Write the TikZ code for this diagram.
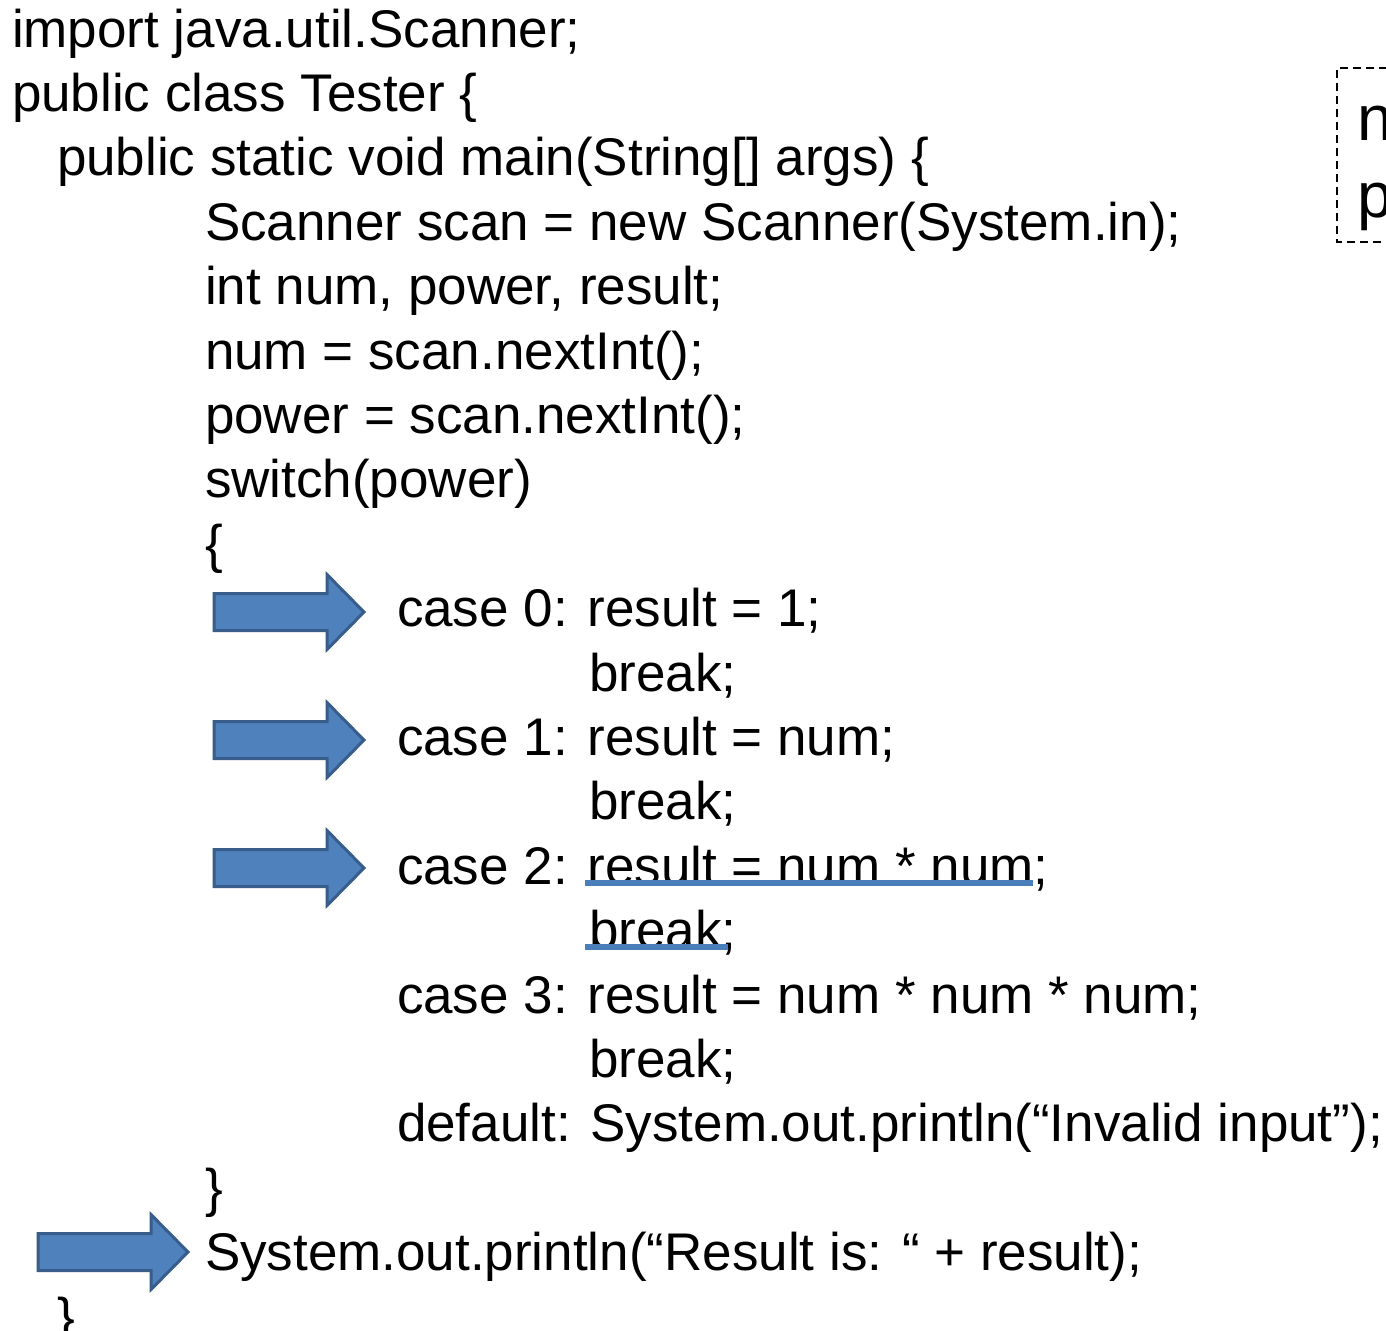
\documentclass[tikz,border=0pt]{standalone}
\usepackage{fontspec}
\setmainfont{Liberation Sans}
\definecolor{arrfill}{HTML}{4F81BD}
\definecolor{arrdraw}{HTML}{385D8A}
\definecolor{uline}{HTML}{4A7EBB}
\begin{document}
\begin{tikzpicture}[x=0.5pt,y=-0.5pt,
  code/.style={anchor=base west,inner sep=0pt,outer sep=0pt,font=\fontsize{26.5}{32}\selectfont},
  boxtext/.style={anchor=base west,inner sep=0pt,outer sep=0pt,font=\fontsize{32}{38}\selectfont},
  ul/.style={draw=uline,line width=3pt},
  blockarrow/.pic={\draw[fill=arrfill,draw=arrdraw,line width=1.5pt,line join=miter]
      (0,-18.5) -- (113,-18.5) -- (113,-37.5) -- (150,0) -- (113,37.5) -- (113,18.5) -- (0,18.5) -- cycle;}
  ]
\useasboundingbox (0,0) rectangle (1386,1330);
\fill[white] (0,0) rectangle (1386,1330);
% code lines
\node[code] (l1)  at (12,47)    {import java.util.Scanner;};
\node[code] (l2)  at (12,111.4) {public class Tester \{};
\node[code] (l3)  at (57,175.8) {public static void main(String[] args) \{};
\node[code] (l4)  at (205,240.2) {Scanner scan = new Scanner(System.in);};
\node[code] (l5)  at (205,304.6) {int num, power, result;};
\node[code] (l6)  at (205,369)   {num = scan.nextInt();};
\node[code] (l7)  at (205,433.4) {power = scan.nextInt();};
\node[code] (l8)  at (205,497.8) {switch(power)};
\node[code] (l9)  at (205,562.2) {\{};
\node[code] (l10) at (397,626.6) {case 0: result = 1;};
\node[code] (l11) at (589,691)   {break;};
\node[code] (l12) at (397,755.4) {case 1: result = num;};
\node[code] (l13) at (589,819.8) {break;};
\node[code] (l14) at (397,884.2) {case 2: result = num * num;};
\node[code] (l15) at (589,948.6) {break;};
\node[code] (l16) at (397,1013)  {case 3: result = num * num * num;};
\node[code] (l17) at (589,1077.4){break;};
\node[code] (l18) at (397,1141.8){default: System.out.println(“Invalid input”);};
\node[code] (l19) at (205,1206.2){\}};
\node[code] (l20) at (205,1270.6){System.out.println(“Result is: “ + result);};
\node[code] (l21) at (57,1335)   {\}};
% dashed box at right
\draw[dashed,dash pattern=on 4pt off 2.5pt,line width=0.8pt] (1400,68) -- (1337,68) -- (1337,242) -- (1400,242);
\node[boxtext] (bn) at (1357,140) {n};
\node[boxtext] (bp) at (1357,217) {p};
% block arrows
\pic at (214,612) {blockarrow};
\pic at (214,740) {blockarrow};
\pic at (214,868) {blockarrow};
\pic at (38,1252) {blockarrow};
% underlines
\draw[ul] (585,883) -- (1033,883);
\draw[ul] (585,947) -- (728,947);
\end{tikzpicture}
\end{document}
